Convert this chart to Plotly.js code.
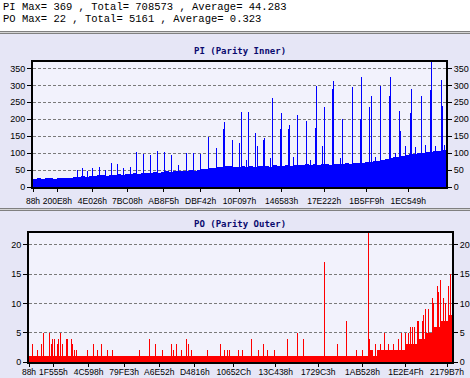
<!DOCTYPE html>
<html><head><meta charset="utf-8">
<script src="https://cdn.plot.ly/plotly-3.0.1.min.js"></script>
<style>html,body{margin:0;padding:0;background:#fff}#chart{width:470px;height:378px}</style>
</head><body><div id="chart"></div>
<script>
// ---------- text ----------
const headerLines = ["PI Max= 369 , Total= 708573 , Average= 44.283",
                     "PO Max= 22 , Total= 5161 , Average= 0.323"];
const piTitle = "PI (Parity Inner)";
const poTitle = "PO (Parity Outer)";

// ---------- PI (top) ----------
const piStartLba = 0x88;
const piLbaPerSample = 5375;        // sectors covered by one sample
const piSamples = 413;
// base level per 4-sample bin
const piBase = [25,27,24,26,28,25,27,26,28,27,29,
  30,32,31,33,32,34,35,33,36,35,37,36,38,37,
  40,39,41,42,40,43,42,
  44,46,45,47,46,48,47,49,48,50,
  52,53,55,57,58,60,62,61,60,
  60,62,59,61,60,62,
  61,63,60,64,62,63,65,62,64,65,
  65,67,64,68,66,67,69,66,68,69,
  68,70,69,71,72,70,73,75,76,78,
  80,83,86,88,90,
  92,95,97,96,99,
  101,104,103,106,105,108,110];
// single-sample peaks: sample index / value
const piPeakX = [44,49,54,59,66,72,78,84,90,97,103,110,117,124,131,138,145,153,160,167,
  175,183,190,191,199,206,208,215,222,224,230,231,239,247,248,255,256,264,273,282,283,
  289,291,299,300,309,319,327,328,336,338,347,356,357,366,367,377,378,388,397,398,408,409,
  213,237,260,277,307,342,362,372,382,392,402,411];
const piPeakY = [50,55,48,55,58,50,70,68,55,58,103,98,95,105,103,95,65,100,100,98,
  148,115,170,192,140,130,222,220,158,120,138,145,263,170,218,170,183,213,195,175,298,
  120,235,290,312,200,295,200,325,235,268,298,268,326,225,165,218,290,268,285,369,315,240,
  80,85,90,80,85,90,100,120,118,125,120,125];
const piTickLabels = ["88h","200E8h","4E026h","7BC08h","AB8F5h","DBF42h","10F097h","146583h","17E222h","1B5FF9h","1EC549h"];
const piTicksY = [0,50,100,150,200,250,300,350];

// ---------- PO (bottom) ----------
const poStartLba = 0x88;
const poLbaPerSample = 5248;
const poSamples = 423;
const poBase = [1,1,1,1,1,1,1,1,1,1,1,1,1,1,1,1,1,1,1,1,
  1,1,1,1,1,1,1,1,1,1,1,1,1,1,1,1,1,1,1,1,
  1,1,1,1,1,1,1,1,1,1,1,1,1,1,1,1,1,1,1,1,
  1,1,1,1,1,1,1,1,1,1,1,1,1,1,1,1,1,1,1,1,
  1,1,1,1,1,2,1,2,2,2,2,2,
  2,2,3,3,3,4,4,5,5,6,6,7,7,8];
const poPeakX = [3,8,12,14,20,22,23,25,28,29,31,33,37,38,42,43,45,47,58,64,68,72,78,83,
  110,120,126,133,142,144,147,152,157,159,162,178,191,195,198,200,209,213,222,229,234,238,245,
  258,268,274,295,308,317,327,333,339,340,346,351,355,359,364,369,372,376,379,381,383,385,
  388,389,393,394,396,399,403,404,408,409,411,414,416,419,421];
const poPeakY = [3,2,3,5,5,3,4,4,3,4,5,3,4,4,4,3,2,2,2,3,2,3,2,2,
  2,4,3,2,3,2,3,2,4,3,2,2,3,2,2,2,2,2,4,2,3,2,2,
  4,5,4,17,3,7,2,2,22,4,3,3,5,3,3,4,5,5,5,6,6,6,
  7,7,7,8,9,9,11,10,13,12,14,11,10,13,15];
const poTickLabels = ["88h","1F555h","4C598h","79FE3h","A6E52h","D4816h","10652Ch","13C438h","1729C3h","1AB528h","1E2E4Fh","2179B7h"];
const poTicksY = [0,5,10,15,20];

// ---------- build ----------
const W = 470, H = 378;
const hexVal = (s) => parseInt(s.replace(/h$/, ""), 16);
const toLba = (start, per) => (i) => start + i * per;
const piX = toLba(piStartLba, piLbaPerSample), poX = toLba(poStartLba, poLbaPerSample);
const binX = (arr, f) => arr.map((_, i) => f(i * 4 + 2));

const xFont = {family: "Liberation Sans, Arial, sans-serif", size: 8.5, color: "#000"};
const yFont = {family: "Liberation Sans, Arial, sans-serif", size: 9, color: "#000"};
const PANEL = "#e6e6f6", PLOT = "#f2f2fc";

const traces = [
  {type: "bar", x: binX(piBase, piX), y: piBase, width: 4 * piLbaPerSample, marker: {color: "#0000ff", line: {width: 0}}, xaxis: "x", yaxis: "y", hoverinfo: "skip"},
  {type: "bar", x: piPeakX.map(piX), y: piPeakY, width: piLbaPerSample, marker: {color: "#0000ff", line: {width: 0}}, xaxis: "x", yaxis: "y", hoverinfo: "skip"},
  {type: "bar", x: binX(poBase, poX), y: poBase, width: 4 * poLbaPerSample, marker: {color: "#ff0000", line: {width: 0}}, xaxis: "x2", yaxis: "y2", hoverinfo: "skip"},
  {type: "bar", x: poPeakX.map(poX), y: poPeakY, width: poLbaPerSample, marker: {color: "#ff0000", line: {width: 0}}, xaxis: "x2", yaxis: "y2", hoverinfo: "skip"},
  {type: "scatter", x: [null], y: [null], xaxis: "x", yaxis: "y3", hoverinfo: "skip"},
  {type: "scatter", x: [null], y: [null], xaxis: "x2", yaxis: "y4", hoverinfo: "skip"}
];

const py = (p) => 1 - p / H;
const px = (p) => p / W;

const yCommon = {ticks: "outside", ticklen: 4, tickcolor: "#000", tickfont: yFont, fixedrange: true,
  showline: true, linecolor: "#000", linewidth: 2, zeroline: false};
const xCommon = {ticks: "outside", ticklen: 3, tickcolor: "#000", tickfont: xFont, tickmode: "array",
  showline: true, mirror: true, linecolor: "#000", linewidth: 2, showgrid: false, zeroline: false, tickangle: 0};

const layout = {
  width: W, height: H, margin: {l: 0, r: 0, t: 0, b: 0},
  paper_bgcolor: PANEL, plot_bgcolor: PLOT, showlegend: false, barmode: "overlay", bargap: 0,
  xaxis: Object.assign({}, xCommon, {domain: [px(33), px(446)], anchor: "y", range: [piX(0), piX(piSamples)],
    tickvals: piTickLabels.map(hexVal), ticktext: piTickLabels, ticklabelstandoff: 2}),
  yaxis: Object.assign({}, yCommon, {domain: [py(187), py(62)], anchor: "x", range: [0, 369], tickmode: "array", tickvals: piTicksY,
    showgrid: true, gridcolor: "#7a7a7a", griddash: "3px,2px", gridwidth: 1, mirror: true}),
  yaxis3: Object.assign({}, yCommon, {overlaying: "y", side: "right", anchor: "x", range: [0, 369], tickmode: "array", tickvals: piTicksY, showgrid: false}),
  xaxis2: Object.assign({}, xCommon, {domain: [px(29), px(452)], anchor: "y2", range: [poX(0), poX(poSamples)],
    tickvals: poTickLabels.map(hexVal), ticktext: poTickLabels, ticklabelstandoff: -2}),
  yaxis2: Object.assign({}, yCommon, {domain: [py(362), py(233)], anchor: "x2", range: [0, 22], tickmode: "array", tickvals: poTicksY,
    showgrid: true, gridcolor: "#7a7a7a", griddash: "3px,2px", gridwidth: 1, mirror: true}),
  yaxis4: Object.assign({}, yCommon, {overlaying: "y2", side: "right", anchor: "x2", range: [0, 22], tickmode: "array", tickvals: poTicksY, showgrid: false}),
  shapes: [
    {type: "rect", xref: "paper", yref: "paper", x0: 0, x1: 1, y0: py(31), y1: 1, fillcolor: "#ffffff", line: {width: 0}, layer: "below"},
    {type: "line", xref: "paper", yref: "paper", x0: 0, x1: 1, y0: py(31.5), y1: py(31.5), line: {color: "#808080", width: 1}},
    {type: "line", xref: "paper", yref: "paper", x0: 0, x1: 1, y0: py(32.5), y1: py(32.5), line: {color: "#d4d4d4", width: 1}},
    {type: "line", xref: "paper", yref: "paper", x0: 0, x1: 1, y0: py(33.5), y1: py(33.5), line: {color: "#808080", width: 1}},
    {type: "line", xref: "paper", yref: "paper", x0: 0, x1: 1, y0: py(208.5), y1: py(208.5), line: {color: "#808080", width: 1}},
    {type: "line", xref: "paper", yref: "paper", x0: 0, x1: 1, y0: py(209.5), y1: py(209.5), line: {color: "#d4d4d4", width: 1}},
    {type: "line", xref: "paper", yref: "paper", x0: 0, x1: 1, y0: py(210.5), y1: py(210.5), line: {color: "#808080", width: 1}}
  ],
  annotations: [
    {xref: "paper", yref: "paper", x: px(1), y: py(6.5), xanchor: "left", yanchor: "middle", showarrow: false, text: headerLines[0],
      font: {family: "Liberation Mono, Courier New, monospace", size: 10.5, color: "#000"}},
    {xref: "paper", yref: "paper", x: px(1), y: py(18.5), xanchor: "left", yanchor: "middle", showarrow: false, text: headerLines[1],
      font: {family: "Liberation Mono, Courier New, monospace", size: 10.5, color: "#000"}},
    {xref: "paper", yref: "paper", x: px(240), y: py(51), xanchor: "center", yanchor: "middle", showarrow: false, text: "<b>" + piTitle + "</b>",
      font: {family: "DejaVu Sans Mono, monospace", size: 9, color: "#0a0a6e"}},
    {xref: "paper", yref: "paper", x: px(240), y: py(224), xanchor: "center", yanchor: "middle", showarrow: false, text: "<b>" + poTitle + "</b>",
      font: {family: "DejaVu Sans Mono, monospace", size: 9, color: "#0a0a6e"}}
  ]
};

Plotly.newPlot("chart", traces, layout, {staticPlot: true, displayModeBar: false});
</script></body></html>
